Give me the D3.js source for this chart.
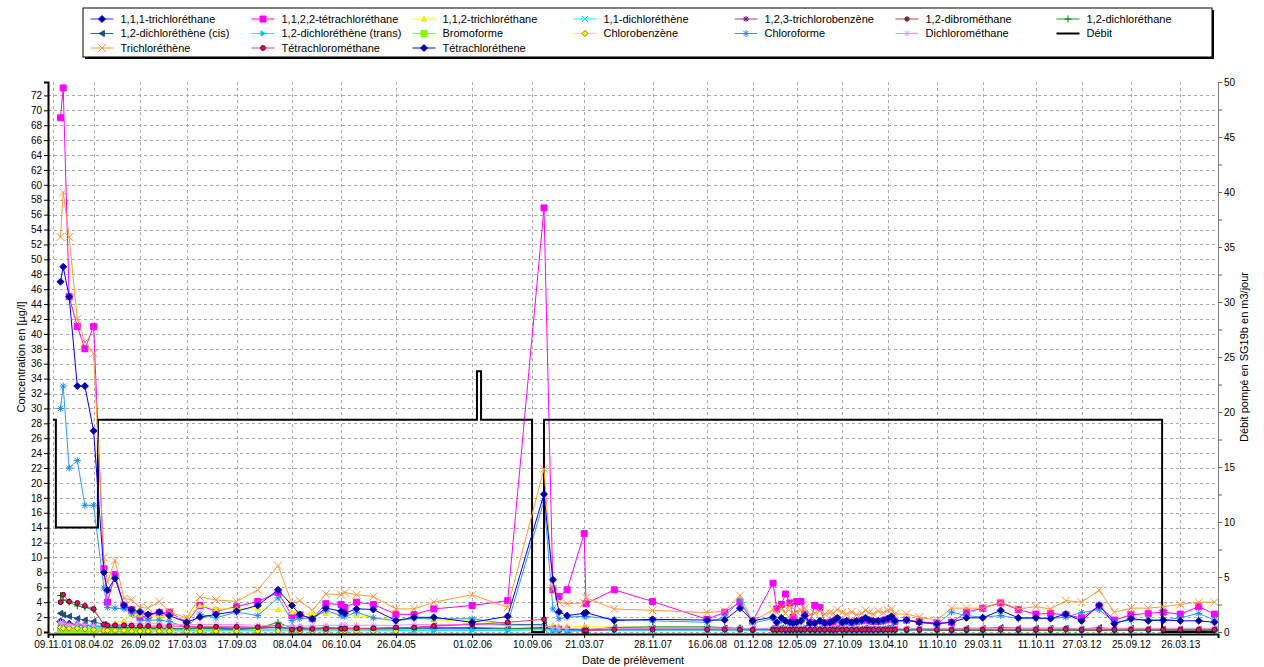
<!DOCTYPE html>
<html><head><meta charset="utf-8">
<script src="https://cdn.jsdelivr.net/npm/d3@7/dist/d3.min.js"></script>
<style>
body{margin:0;background:#fff;}
svg text{font-family:"Liberation Sans",Arial,sans-serif;fill:#000;}
</style></head><body>
<svg id="chart" width="1264" height="667"></svg>
<script>
// ---------------- DATA ----------------
const dates = [
"2001-12-07","2001-12-17","2002-01-08","2002-02-07","2002-03-07","2002-04-08","2002-05-16","2002-05-29","2002-06-26","2002-07-29",
"2002-08-26","2002-09-26","2002-10-26","2002-12-06","2003-01-12","2003-03-17","2003-05-05","2003-07-03","2003-09-17","2003-12-04",
"2004-02-17","2004-04-08","2004-05-07","2004-06-22","2004-08-11","2004-10-06","2004-10-20","2004-12-02","2005-02-02","2005-04-26",
"2005-07-02","2005-09-13","2006-02-01","2006-06-12","2006-10-24","2006-11-26","2006-12-18","2007-01-17","2007-03-21","2007-03-28",
"2007-07-10","2007-11-28","2008-06-16","2008-08-20","2008-10-15","2008-12-01","2009-02-14","2009-02-28","2009-03-17","2009-04-01",
"2009-04-17","2009-04-29","2009-05-12","2009-05-28","2009-06-11","2009-06-30","2009-07-18","2009-08-06","2009-08-24","2009-09-12",
"2009-09-24","2009-10-09","2009-10-27","2009-11-12","2009-12-01","2009-12-19","2010-01-07","2010-01-21","2010-02-03","2010-02-19",
"2010-03-09","2010-03-27","2010-04-13","2010-04-27","2010-05-09","2010-06-21","2010-08-07","2010-10-11","2010-12-04","2011-01-28",
"2011-03-29","2011-06-03","2011-08-07","2011-10-11","2011-12-04","2012-01-29","2012-03-27","2012-05-31","2012-07-26","2012-09-25",
"2012-11-28","2013-01-22","2013-03-26","2013-06-02","2013-07-30"];

const trichloroethane111 = [
1.4,1.2,1.1,1.0,0.9,0.8,0.6,0.6,0.5,0.5,
0.5,0.5,0.5,0.5,0.4,0.4,0.5,0.5,0.5,0.5,
0.6,0.4,0.4,0.4,0.5,0.5,0.5,0.5,0.4,0.4,
0.5,0.5,0.5,0.4,0.6,0.4,0.3,0.3,0.3,0.3,
0.4,0.4,0.4,0.4,0.5,0.3,0.4,0.3,0.4,0.3,
0.3,0.3,0.3,0.3,0.4,0.3,0.3,0.3,0.3,0.3,
0.3,0.4,0.3,0.3,0.3,0.3,0.3,0.4,0.3,0.3,
0.3,0.3,0.4,0.4,0.3,0.3,0.3,0.3,0.3,0.3,
0.3,0.4,0.3,0.3,0.3,0.4,0.3,0.4,0.3,0.3,
0.3,0.3,0.3,0.3,0.3];
const tetrachloroethane1122 = [
69,73,45,41,38,41,8.5,4.0,7.7,3.5,
3.0,2.0,2.2,2.6,2.67,1.3,3.56,2.8,3.4,4.1,
5.3,2.2,2.3,1.77,3.8,3.7,3.3,4.0,3.7,2.4,
2.35,3.1,3.56,4.2,56.9,5.66,4.76,5.66,13.2,3.8,
5.66,4.1,1.7,2.66,4.0,1.5,6.55,3.1,3.7,5.1,
3.9,2.0,4.1,4.1,2.4,1.3,3.56,3.3,1.2,1.3,
1.4,1.7,1.3,1.4,1.3,1.4,1.5,1.7,1.5,1.4,
1.4,1.5,1.7,1.9,1.4,1.6,1.4,1.2,1.3,2.66,
3.2,3.9,3.0,2.4,2.5,2.3,1.9,3.5,1.6,2.3,
2.5,2.66,2.4,3.4,2.4];
const trichloroethane112 = [
0.3,0.3,0.3,0.3,0.4,0.4,0.6,0.8,1.2,1.5,
2.35,2.3,2.2,2.1,2.0,1.9,3.56,3.1,3.1,3.1,
3.0,2.67,2.5,2.35,2.5,2.4,2.3,2.2,2.0,1.6,
1.9,1.6,1.5,1.1,1.0,0.9,0.8,0.8,0.7,0.7,
0.7,0.6,0.5,0.5,0.4,0.4,0.4,0.4,0.4,0.4,
0.4,0.4,0.4,0.4,0.4,0.4,0.4,0.4,0.4,0.4,
0.4,0.4,0.4,0.4,0.4,0.4,0.4,0.4,0.4,0.4,
0.4,0.4,0.4,0.4,0.4,0.4,0.4,0.4,0.4,0.4,
0.4,0.4,0.4,0.4,0.4,0.4,0.4,0.4,0.4,0.4,
0.4,0.4,0.4,0.4,0.4];
const dichloroethene11 = [
1.2,1.0,0.9,0.8,0.8,0.8,0.5,0.4,0.4,0.4,
0.4,0.4,0.3,0.3,0.3,0.3,0.3,0.3,0.3,0.3,
0.3,0.3,0.3,0.3,0.3,0.3,0.3,0.3,0.3,0.3,
0.3,0.3,0.3,0.3,0.4,0.3,0.3,0.2,0.2,0.2,
0.2,0.2,0.2,0.2,0.2,0.2,0.2,0.2,0.2,0.2,
0.2,0.2,0.2,0.2,0.2,0.2,0.2,0.2,0.2,0.2,
0.2,0.2,0.2,0.2,0.2,0.2,0.2,0.2,0.2,0.2,
0.2,0.2,0.2,0.2,0.2,0.2,0.2,0.2,0.2,0.2,
0.2,0.2,0.2,0.2,0.2,0.2,0.2,0.2,0.2,0.2,
0.2,0.2,0.2,0.2,0.2];
const trichlorobenzene123 = [
0.6,0.7,0.5,0.5,0.4,0.3,0.2,0.1,0.1,0.1,
0.1,0.1,0.1,0.1,0.1,0.1,0.1,0.1,0.1,0.1];
const dibromoethane12 = [
0.1,0.1,0.1,0.1,0.1,0.1,0.1,0.1,0.1,0.1,
0.1,0.1,0.1,0.1,0.1,0.1,0.1,0.1,0.1,0.1];
const dichloroethane12 = [
4.9,4.3,4.0,3.5,3.3,3.0,1.0,0.7,0.6,0.6,
0.6,0.5,0.47,0.5,0.5,0.4,0.5,0.4,0.3,0.5,
1.3,0.5,0.6,0.5,0.6,0.5,0.5,0.4,0.5,0.6,
0.5,0.6,0.6,0.5,0.5,0.4,0.4,0.4,0.3,0.3,
0.6,0.7,0.7,0.6,0.5,0.4,0.3,0.3,0.3,0.3,
0.3,0.3,0.3,0.3,0.3,0.3,0.3,0.3,0.3,0.3,
0.3,0.3,0.3,0.3,0.3,0.3,0.3,0.3,0.3,0.3,
0.3,0.3,0.3,0.3,0.3,0.3,0.3,0.2,0.2,0.2,
0.2,0.2,0.2,0.2,0.2,0.2,0.2,0.2,0.2,0.2,
0.2,0.2,0.2,0.2,0.2];
const dichloroetheneCis = [
2.5,2.3,2.1,1.8,1.6,1.4,1.0,0.6,0.7,0.7,
0.6,0.6,0.6,0.5,0.5,0.5,0.6,0.6,0.5,0.6,
0.6,0.5,0.5,0.4,0.5,0.5,0.5,0.5,0.4,0.5,
0.6,0.8,1.1,1.0,1.0,0.5,0.4,0.3,0.2,0.2,
0.6,0.5,0.5,0.5,0.4,0.4,0.5,0.4,0.5,0.4,
0.4,0.4,0.4,0.4,0.5,0.4,0.4,0.4,0.4,0.4,
0.4,0.5,0.4,0.4,0.4,0.4,0.4,0.5,0.4,0.4,
0.4,0.4,0.5,0.5,0.4,0.4,0.4,0.4,0.4,0.5,
0.5,0.6,0.5,0.5,0.5,0.5,0.4,0.6,0.4,0.5,
0.4,0.4,0.4,0.4,0.4];
const dichloroetheneTrans = [
0.8,0.7,0.6,0.6,0.6,0.5,0.4,0.3,0.3,0.3,
0.3,0.3,0.3,0.3,0.3,0.2,0.2,0.2,0.2,0.2,
0.2,0.2,0.2,0.2,0.2,0.2,0.2,0.2,0.2,0.2,
0.2,0.2,0.2,0.2,0.3,0.2,0.2,0.1,0.1,0.1];
const bromoforme = [
0.05,0.05,0.05,0.05,0.05,0.05,0.05,0.05,0.05,0.05,
0.05,0.05,0.05,0.05,0.05,0.05,0.05,0.05,0.05,0.05];
const chlorobenzene = [
0.6,0.5,0.5,0.5,0.4,0.3,0.2,0.2,0.2,0.2,
0.1,0.1,0.1,0.1,0.1,0.1,0.1,0.1,0.1,0.1,
0.1,0.1,0.1,0.1,0.1,0.1,0.1,0.1,0.1,0.1];
const chloroforme = [
30,33,22,23,17,17,5.9,3.3,3.2,3.1,
2.5,1.5,1.6,1.6,1.4,0.6,2.4,1.9,2.67,2.2,
4.6,1.54,1.8,1.77,2.9,2.2,2.1,2.67,1.9,1.5,
1.8,1.8,1.77,1.1,17.6,3.1,1.77,2.0,2.1,2.1,
1.7,1.5,1.3,2.0,4.3,1.2,1.8,1.1,1.6,1.3,
1.1,1.0,1.2,1.3,1.9,1.0,1.1,1.3,1.0,1.2,
1.3,1.7,1.1,1.3,1.2,1.3,1.4,1.7,1.4,1.3,
1.3,1.4,1.6,1.9,1.3,1.5,1.3,1.0,2.66,2.2,
2.0,2.2,1.8,1.8,1.8,2.0,2.6,3.0,1.3,1.6,
1.7,1.6,1.9,2.5,1.6];
const dichloromethane = [
1.3,1.2,1.0,1.1,1.0,0.9,0.9,0.9,1.0,1.0,
1.1,1.1,1.1,1.1,1.0,1.0,1.0,1.0,1.0,0.9,
0.9,0.8,0.8,0.8,0.9,0.9,0.9,0.9,0.9,0.9,
1.0,1.0,1.0,0.9,0.8,0.6,0.5,0.5,0.4,0.4,
0.5,0.5,0.5,0.5,0.5,0.5,0.5,0.5,0.5,0.5,
0.5,0.5,0.5,0.5,0.5,0.5,0.5,0.5,0.5,0.5,
0.5,0.5,0.5,0.5,0.5,0.5,0.5,0.5,0.5,0.5,
0.5,0.5,0.5,0.5,0.5,0.5,0.5,0.5,0.5,0.5,
0.5,0.5,0.5,0.5,0.5,0.5,0.5,0.5,0.5,0.5,
0.5,0.5,0.5,0.5,0.5];
const trichloroethene = [
53,59,53,42,38.9,37.4,10.0,6.7,9.6,4.5,
4.32,3.3,3.2,4.1,2.7,1.9,4.7,4.3,4.1,5.66,
8.9,3.8,4.2,2.9,5.1,5.0,5.3,5.0,4.75,3.1,
3.1,4.0,5.0,3.3,21.9,5.8,4.0,3.8,3.9,4.6,
3.1,2.9,2.6,2.8,4.9,1.4,3.0,2.6,3.3,2.5,
3.6,2.4,2.7,2.9,3.2,2.3,2.5,2.8,2.4,2.6,
2.5,3.0,2.6,2.4,2.7,2.3,2.5,2.9,2.6,2.4,
2.8,2.6,2.9,3.1,2.4,2.4,2.0,1.6,3.2,3.2,
3.2,4.0,3.1,3.4,3.1,4.2,4.0,5.6,2.66,3.2,
3.2,3.4,3.7,4.0,4.0];
const tetrachloromethane = [
4.0,5.0,4.1,3.9,3.5,3.1,1.0,0.9,0.9,0.9,
0.85,0.8,0.8,0.8,0.8,0.75,0.7,0.7,0.7,0.64,
0.87,0.3,0.4,0.4,0.4,0.43,0.43,0.5,0.5,0.6,
0.6,0.8,1.0,1.3,1.7,null,null,null,0.2,0.2,
0.3,0.3,0.3,0.3,0.3,0.3,0.3,0.3,0.3,0.3,
0.3,0.3,0.3,0.3,0.3,0.3,0.3,0.3,0.3,0.3,
0.3,0.3,0.3,0.3,0.3,0.3,0.3,0.3,0.3,0.3,
0.3,0.3,0.3,0.3,0.3,0.3,0.3,0.3,0.3,0.3,
0.3,0.3,0.3,0.3,0.3,0.4,0.3,0.3,0.3,0.3,
0.3,0.3,0.3,0.3,0.3];
const tetrachloroethene = [
47,49,45,33,33,27,8.0,5.6,7.2,3.6,
3.0,2.7,2.35,2.67,2.2,1.3,2.0,2.35,2.8,3.56,
5.66,3.56,2.35,1.77,3.2,2.8,2.53,3.11,3.02,1.54,
1.97,1.97,1.3,2.1,18.5,7.0,2.7,2.2,2.5,2.6,
1.54,1.7,1.6,1.6,3.2,1.5,2.0,1.3,1.9,1.5,
1.3,1.2,1.3,1.5,2.2,1.2,1.2,1.5,1.2,1.3,
1.5,1.9,1.3,1.5,1.3,1.5,1.6,1.9,1.6,1.5,
1.5,1.6,1.8,2.1,1.5,1.6,1.3,1.1,1.3,1.9,
1.9,2.9,1.9,1.9,1.8,2.4,1.5,3.6,1.1,1.8,
1.5,1.6,1.5,1.5,1.3];

// Débit (right axis, m3/jour) - step changes
const debitDates  = ["2001-11-09","2001-11-20","2001-11-20","2002-04-24","2002-04-24","2006-02-19","2006-02-19","2006-03-06","2006-03-06","2006-09-10","2006-09-10","2006-10-24","2006-10-24","2013-01-18","2013-01-18","2013-07-30"];
const debitValues = [19.3,19.3,9.5,9.5,19.3,19.3,23.7,23.7,19.3,19.3,0,0,19.3,19.3,0,0];

const xTickLabels = ["09.11.01","08.04.02","26.09.02","17.03.03","17.09.03","08.04.04","06.10.04","26.04.05","01.02.06","10.09.06","21.03.07","28.11.07","16.06.08","01.12.08","12.05.09","27.10.09","13.04.10","11.10.10","29.03.11","11.10.11","27.03.12","25.09.12","26.03.13"];
const leftTicks = [0,2,4,6,8,10,12,14,16,18,20,22,24,26,28,30,32,34,36,38,40,42,44,46,48,50,52,54,56,58,60,62,64,66,68,70,72];
const rightTicks = [0,2.5,5,7.5,10,12.5,15,17.5,20,22.5,25,27.5,30,32.5,35,37.5,40,42.5,45,47.5,50];

// series (legend order) with styles
const seriesDefs = [
 {name:"1,1,1-trichloréthane", values:trichloroethane111, color:"#2a2aff", marker:"diamond", fill:"#000080", mstroke:"#0000ff", size:3.5},
 {name:"1,1,2,2-tétrachloréthane", values:tetrachloroethane1122, color:"#ff00ff", marker:"square", fill:"#ff00ff", mstroke:"#ff00ff", size:3},
 {name:"1,1,2-trichloréthane", values:trichloroethane112, color:"#ffff00", marker:"triangle", fill:"#ffff00", mstroke:"#e0e000", size:2.5},
 {name:"1,1-dichloréthène", values:dichloroethene11, color:"#00ffff", marker:"x", fill:"none", mstroke:"#00e8ff", size:3},
 {name:"1,2,3-trichlorobenzène", values:trichlorobenzene123, color:"#a040a0", marker:"star", fill:"none", mstroke:"#800080", size:3},
 {name:"1,2-dibrométhane", values:dibromoethane12, color:"#a05050", marker:"circle", fill:"#703030", mstroke:"#703030", size:2.2},
 {name:"1,2-dichloréthane", values:dichloroethane12, color:"#1a9a1a", marker:"plus", fill:"none", mstroke:"#008000", size:3.5},
 {name:"1,2-dichloréthène (cis)", values:dichloroetheneCis, color:"#336699", marker:"tril", fill:"#1f4f7f", mstroke:"#1f4f7f", size:3},
 {name:"1,2-dichloréthène (trans)", values:dichloroetheneTrans, color:"#22e0ff", marker:"trir", fill:"#00c8ff", mstroke:"#00c8ff", size:2.5},
 {name:"Bromoforme", values:bromoforme, color:"#80ff00", marker:"square", fill:"#80ff00", mstroke:"#80ff00", size:3},
 {name:"Chlorobenzène", values:chlorobenzene, color:"#ffff00", marker:"diamond", fill:"#ffff00", mstroke:"#808000", size:3},
 {name:"Chloroforme", values:chloroforme, color:"#3399ff", marker:"star", fill:"none", mstroke:"#1a88ff", size:3.5},
 {name:"Dichlorométhane", values:dichloromethane, color:"#ff88ff", marker:"star", fill:"none", mstroke:"#ff88ff", size:3},
 {name:"Débit", debit:true, color:"#000000"},
 {name:"Trichloréthène", values:trichloroethene, color:"#ff9933", marker:"x", fill:"none", mstroke:"#ff9040", size:4},
 {name:"Tétrachlorométhane", values:tetrachloromethane, color:"#ff3377", marker:"circle", fill:"#dd1166", mstroke:"#550022", size:2.4},
 {name:"Tétrachloréthene", values:tetrachloroethene, color:"#0000ff", marker:"diamond", fill:"#000080", mstroke:"#0000ff", size:3.5}
];

// ---------------- CHART ----------------
const parseISO = d3.timeParse("%Y-%m-%d");
const parseLbl = d3.timeParse("%d.%m.%y");
const svg = d3.select("#chart");
const plot = {left:48, right:1218, top:82, bottom:632};

const x = d3.scaleTime().domain([parseISO("2001-10-22"), parseISO("2013-08-12")]).range([plot.left, plot.right]);
const yL = d3.scaleLinear().domain([0, 73.8]).range([plot.bottom, plot.top]);
const yR = d3.scaleLinear().domain([0, 50]).range([plot.bottom, plot.top]);
const tickDates = xTickLabels.map(parseLbl);

// gridlines
const grid = svg.append("g").attr("stroke","#a8a8a8").attr("stroke-dasharray","3,3").attr("stroke-width",1);
leftTicks.forEach(v => grid.append("line").attr("x1",plot.left).attr("x2",plot.right)
  .attr("y1",Math.round(yL(v))+0.5).attr("y2",Math.round(yL(v))+0.5));
tickDates.forEach(d => grid.append("line").attr("y1",plot.top).attr("y2",plot.bottom)
  .attr("x1",Math.round(x(d))+0.5).attr("x2",Math.round(x(d))+0.5));

// marker path generator
function markerPath(type, s){
  switch(type){
    case "diamond": return `M0,${-s}L${s},0L0,${s}L${-s},0Z`;
    case "square": return `M${-s},${-s}H${s}V${s}H${-s}Z`;
    case "triangle": return `M0,${-s}L${s},${s*0.8}L${-s},${s*0.8}Z`;
    case "tril": return `M${-s},0L${s*0.8},${-s}L${s*0.8},${s}Z`;
    case "trir": return `M${s},0L${-s*0.8},${-s}L${-s*0.8},${s}Z`;
    case "circle": return d3.symbol(d3.symbolCircle, Math.PI*s*s)();
    case "plus": return `M${-s},0H${s}M0,${-s}V${s}`;
    case "x": return `M${-s},${-s}L${s},${s}M${-s},${s}L${s},${-s}`;
    case "star": { const t=s*0.72; return `M${-s},0H${s}M0,${-s}V${s}M${-t},${-t}L${t},${t}M${-t},${t}L${t},${-t}`; }
  }
  return "";
}
const lineL = d3.line().defined(d => d.v != null).x(d => x(d.date)).y(d => yL(d.v));
const lineR = d3.line().x(d => x(d.date)).y(d => yR(d.v));

const layer = svg.append("g");
seriesDefs.forEach(s => {
  if (s.debit){
    const pts = debitDates.map((d,i)=>({date:parseISO(d), v:debitValues[i]}));
    layer.append("path").attr("d", lineR(pts)).attr("fill","none").attr("stroke","#000").attr("stroke-width",2);
    return;
  }
  const pts = s.values.map((v,i)=>({date:parseISO(dates[i]), v:v}));
  layer.append("path").attr("d", lineL(pts)).attr("fill","none").attr("stroke",s.color).attr("stroke-width",1);
  const mp = markerPath(s.marker, s.size);
  const g = layer.append("g");
  g.selectAll("path").data(pts.filter(p=>p.v!=null)).join("path")
    .attr("d", mp)
    .attr("transform", p => `translate(${x(p.date)},${yL(p.v)})`)
    .attr("fill", s.fill)
    .attr("stroke", s.mstroke).attr("stroke-width", 1);
});

// axes
const axL = svg.append("g").attr("transform",`translate(${plot.left},0)`)
  .call(d3.axisLeft(yL).tickValues(leftTicks).tickSize(4).tickPadding(2).tickFormat(d3.format("d")));
axL.select(".domain").attr("stroke","#000").attr("stroke-width",2);
axL.selectAll("text").style("font-size","10px").style("font-family","Liberation Sans, Arial, sans-serif");

const axR = svg.append("g").attr("transform",`translate(${plot.right},0)`)
  .call(d3.axisRight(yR).tickValues(rightTicks).tickSize(4).tickPadding(2)
    .tickFormat(v => (v % 5 === 0) ? d3.format("d")(v) : ""));
axR.select(".domain").attr("stroke","#808080").attr("stroke-width",1);
axR.selectAll(".tick line").attr("stroke","#606060");
axR.selectAll("text").style("font-size","10px").style("font-family","Liberation Sans, Arial, sans-serif");

const axB = svg.append("g").attr("transform",`translate(0,634)`)
  .call(d3.axisBottom(x).tickValues(tickDates).tickSize(4).tickPadding(3).tickFormat(d3.timeFormat("%d.%m.%y")));
axB.select(".domain").attr("stroke","#000").attr("stroke-width",2);
axB.selectAll("text").style("font-size","10px").style("font-family","Liberation Sans, Arial, sans-serif");

// axis titles
svg.append("text").attr("transform",`translate(25,${(plot.top+plot.bottom)/2}) rotate(-90)`)
  .attr("text-anchor","middle").style("font-size","11px").text("Concentration en [µg/l]");
svg.append("text").attr("transform",`translate(1248,${(plot.top+plot.bottom)/2}) rotate(-90)`)
  .attr("text-anchor","middle").style("font-size","11px").text("Débit pompé en SG19b en m3/jour");
svg.append("text").attr("x",(plot.left+plot.right)/2).attr("y",664)
  .attr("text-anchor","middle").style("font-size","11px").text("Date de prélèvement");

// legend
const lg = svg.append("g");
lg.append("rect").attr("x",85).attr("y",10).attr("width",1129).attr("height",49).attr("fill","#000");
lg.append("rect").attr("x",83).attr("y",8).attr("width",1129).attr("height",49).attr("fill","#fff").attr("stroke","#000").attr("stroke-width",1);
seriesDefs.forEach((s,i) => {
  const col = i % 7, row = Math.floor(i / 7);
  const tx = 120.5 + col*161, ty = 19 + row*14.5;
  const item = lg.append("g");
  item.append("line").attr("x1",tx-30).attr("x2",tx-7).attr("y1",ty).attr("y2",ty)
    .attr("stroke",s.color).attr("stroke-width", s.debit ? 2 : 1);
  if (!s.debit){
    item.append("path").attr("d", markerPath(s.marker, s.size)).attr("transform",`translate(${tx-18.5},${ty})`)
      .attr("fill",s.fill).attr("stroke",s.mstroke).attr("stroke-width",1);
  }
  item.append("text").attr("x",tx).attr("y",ty).attr("dy","0.35em").style("font-size","11px").text(s.name);
});
</script>
</body></html>
